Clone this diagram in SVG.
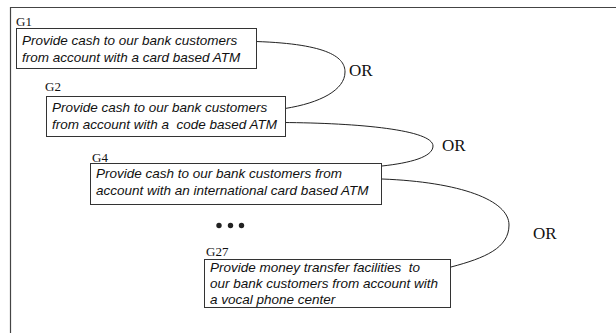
<svg xmlns="http://www.w3.org/2000/svg" width="616" height="333" viewBox="0 0 616 333">
<style>
.box{fill:#fff;stroke:#333;stroke-width:1}
.t{font-family:"Liberation Sans",Arial,sans-serif;font-style:italic;font-size:13.5px;fill:#111;white-space:pre}
.g{font-family:"Liberation Serif","Times New Roman",serif;font-size:13px;fill:#111}
.or{font-family:"Liberation Serif","Times New Roman",serif;font-size:17px;fill:#111}
.c{fill:none;stroke:#222;stroke-width:1}
</style>
<rect width="616" height="333" fill="#fff"/>
<path d="M10.5 333 V7.5 H616" fill="none" stroke="#444" stroke-width="1.2"/>
<g id="connectors">
<path class="c" d="M256 41.5 C330 44 345 58 345 72 C345 90 320 103 285 108.5"/>
<path class="c" d="M282 122.5 C360 123 433 130 433 146 C433 157 410 163 382 166"/>
<path class="c" d="M382 179 C460 182 509 200 509 225 C509 248 485 258 451 267"/>
</g>
<g id="or1"><text class="or" x="349" y="76">OR</text></g>
<g id="or2"><text class="or" x="442" y="151">OR</text></g>
<g id="or3"><text class="or" x="533" y="239">OR</text></g>
<g id="G1">
<text class="g" x="16" y="25.5">G1</text>
<rect class="box" x="16.5" y="28.5" width="240" height="40"/>
<text class="t" x="22" y="44.5">Provide cash to our bank customers</text>
<text class="t" x="22" y="62">from account with a card based ATM</text>
</g>
<g id="G2">
<text class="g" x="45" y="90.5">G2</text>
<rect class="box" x="46.5" y="96.5" width="239" height="40"/>
<text class="t" x="52" y="112">Provide cash to our bank customers</text>
<text class="t" x="52" y="129" xml:space="preserve">from account with a  code based ATM</text>
</g>
<g id="G4">
<text class="g" x="92" y="162">G4</text>
<rect class="box" x="90.5" y="163.5" width="291" height="41"/>
<text class="t" x="96" y="178">Provide cash to our bank customers from</text>
<text class="t" x="96" y="195">account with an international card based ATM</text>
</g>
<g id="dots">
<circle cx="219" cy="225.5" r="2.7" fill="#222"/>
<circle cx="230.5" cy="225.5" r="2.7" fill="#222"/>
<circle cx="241.5" cy="225.5" r="2.7" fill="#222"/>
</g>
<g id="G27">
<text class="g" x="206" y="256">G27</text>
<rect class="box" x="204.5" y="259.5" width="246" height="48"/>
<text class="t" x="210" y="272" xml:space="preserve">Provide money transfer facilities  to</text>
<text class="t" x="210" y="288">our bank customers from account with</text>
<text class="t" x="210" y="304">a vocal phone center</text>
</g>
</svg>
